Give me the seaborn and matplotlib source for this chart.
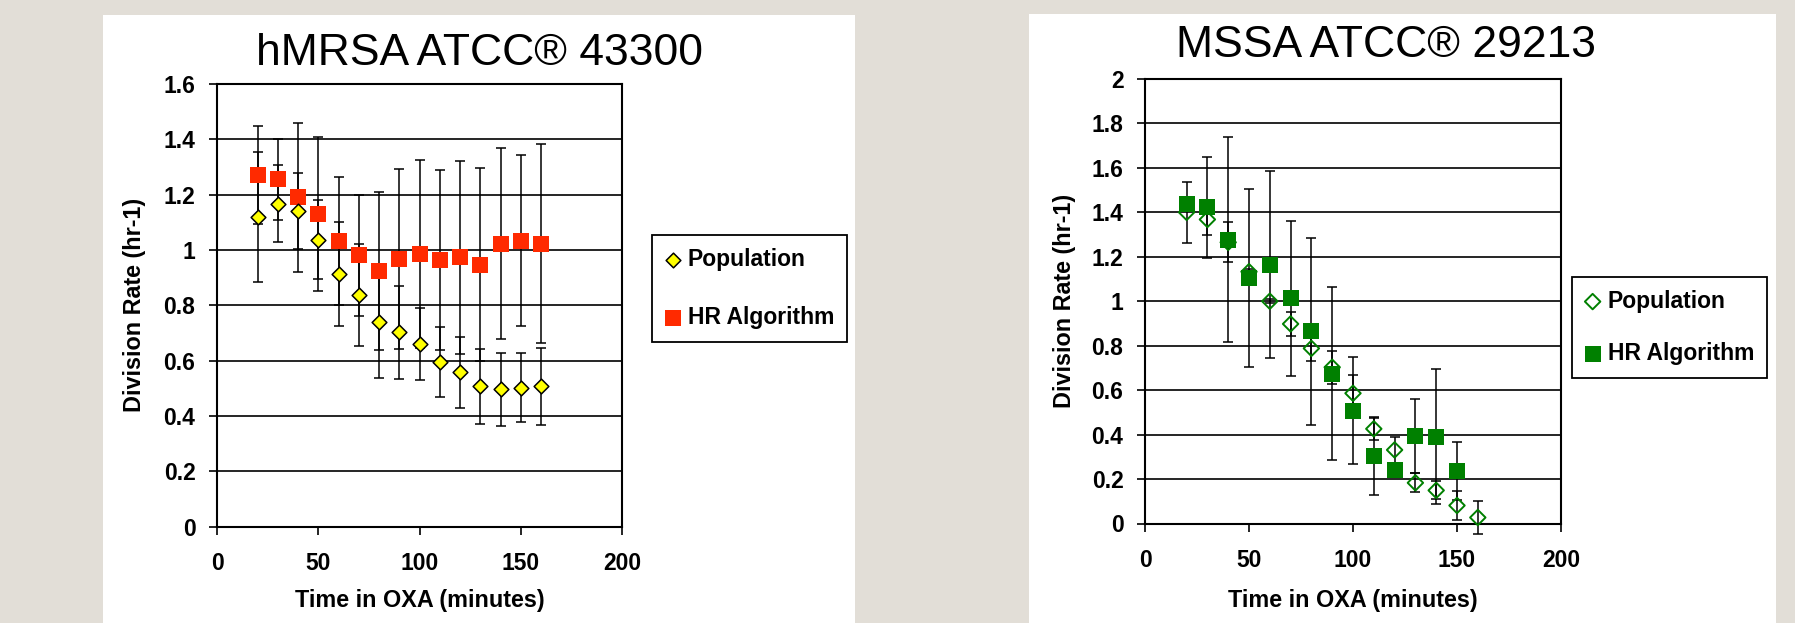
import matplotlib
matplotlib.use("Agg")
import matplotlib.pyplot as plt
import seaborn as sns
import pandas as pd
from matplotlib.patches import Rectangle

# ---------------- data ----------------
times = [20, 30, 40, 50, 60, 70, 80, 90, 100, 110, 120, 130, 140, 150, 160]

# hMRSA ATCC 43300
mrsa_pop = [1.120, 1.167, 1.141, 1.037, 0.913, 0.837, 0.741, 0.702, 0.659, 0.595, 0.557, 0.507, 0.496, 0.502, 0.507]
mrsa_pop_err = [0.235, 0.140, 0.137, 0.142, 0.188, 0.186, 0.205, 0.168, 0.130, 0.127, 0.127, 0.135, 0.133, 0.125, 0.140]
mrsa_hr = [1.271, 1.255, 1.190, 1.130, 1.033, 0.980, 0.925, 0.967, 0.984, 0.963, 0.973, 0.947, 1.023, 1.034, 1.023]
mrsa_hr_err = [0.177, 0.145, 0.270, 0.280, 0.232, 0.220, 0.285, 0.325, 0.340, 0.325, 0.350, 0.350, 0.345, 0.310, 0.360]

# MSSA ATCC 29213
mssa_times_hr = [20, 30, 40, 50, 60, 70, 80, 90, 100, 110, 120, 130, 140, 150]
mssa_pop = [1.400, 1.368, 1.265, 1.133, 1.000, 0.898, 0.788, 0.703, 0.586, 0.426, 0.331, 0.183, 0.149, 0.081, 0.027]
mssa_pop_err = [0.137, 0.072, 0.090, 0.010, 0.010, 0.053, 0.059, 0.075, 0.080, 0.050, 0.060, 0.043, 0.040, 0.065, 0.072]
mssa_hr = [1.438, 1.423, 1.277, 1.103, 1.164, 1.013, 0.865, 0.674, 0.507, 0.302, 0.241, 0.392, 0.391, 0.236]
mssa_hr_err = [0.030, 0.227, 0.460, 0.400, 0.420, 0.350, 0.420, 0.390, 0.240, 0.175, 0.030, 0.167, 0.304, 0.130]

x_ticks = [0, 50, 100, 150, 200]
x_tick_labels = ["0", "50", "100", "150", "200"]
mrsa_y_ticks = [0, 0.2, 0.4, 0.6, 0.8, 1.0, 1.2, 1.4, 1.6]
mrsa_y_labels = ["0", "0.2", "0.4", "0.6", "0.8", "1", "1.2", "1.4", "1.6"]
mssa_y_ticks = [0, 0.2, 0.4, 0.6, 0.8, 1.0, 1.2, 1.4, 1.6, 1.8, 2.0]
mssa_y_labels = ["0", "0.2", "0.4", "0.6", "0.8", "1", "1.2", "1.4", "1.6", "1.8", "2"]

titles = ["hMRSA ATCC\u00ae 43300", "MSSA ATCC\u00ae 29213"]
series_names = ["Population", "HR Algorithm"]
x_label = "Time in OXA (minutes)"
y_label = "Division Rate (hr-1)"

# ---------------- style ----------------
sns.set_style("white")
plt.rcParams["font.family"] = ["Liberation Sans", "DejaVu Sans"]

W, H = 1795, 623
fig = plt.figure(figsize=(W / 100, H / 100), dpi=100, facecolor="#e2ded7")


def fx(px):
    return px / W


def fy(py):
    return 1 - py / H


# white chart panels (behind the axes)
for (x0, x1, top) in [(103, 855, 15), (1029, 1776, 14)]:
    fig.patches.append(Rectangle((fx(x0), 0), fx(x1) - fx(x0), fy(top),
                                 transform=fig.transFigure, facecolor="white",
                                 edgecolor="none", zorder=-5))


def make_panel(box, ymax, yticks, ylabels, t_pop, pop, pop_err, t_hr, hr, hr_err,
               pop_kw, pop_open, hr_color, pop_top, legend_box, label_x, spacing,
               title, title_xy, title_size):
    left, right, top, bottom = box
    ax = fig.add_axes([fx(left), fy(bottom), fx(right) - fx(left), (bottom - top) / H])
    ax.set_zorder(1)
    ax.set_facecolor("white")
    ax.set_xlim(0, 200)
    ax.set_ylim(0, ymax)

    # error bars
    for t, v, e in [(t_pop, pop, pop_err), (t_hr, hr, hr_err)]:
        eb = ax.errorbar(t, v, yerr=e, fmt="none", ecolor="black", elinewidth=1.1,
                         capsize=3.4, capthick=1.1, zorder=3)
        for ch in eb.get_children():
            ch.set_clip_on(False)

    df_pop = pd.DataFrame({"t": t_pop, "v": pop})
    df_hr = pd.DataFrame({"t": t_hr, "v": hr})

    sns.scatterplot(data=df_hr, x="t", y="v", ax=ax, marker="s", s=140,
                    color=hr_color, edgecolor=hr_color, linewidth=0,
                    zorder=4, legend=False)
    h_hr = ax.collections[-1]
    sns.scatterplot(data=df_pop, x="t", y="v", ax=ax, marker="D",
                    zorder=5 if pop_top else 3.5, legend=False, **pop_kw)
    h_pop = ax.collections[-1]
    if pop_open:
        h_pop.set_facecolor("none")
    for h in (h_hr, h_pop):
        h.set_clip_on(False)

    ax.set_xticks(x_ticks, labels=x_tick_labels, fontweight="bold")
    ax.set_yticks(yticks, labels=ylabels, fontweight="bold")
    ax.tick_params(axis="both", which="both", direction="out", length=6, width=1.2,
                   color="black", labelsize=16.5, labelcolor="black",
                   bottom=True, left=True)
    ax.tick_params(axis="x", pad=12.5)
    ax.tick_params(axis="y", pad=9.5)
    ax.grid(axis="y", color="black", linewidth=1.2)
    ax.grid(axis="x", visible=False)
    ax.set_axisbelow(True)
    for sp in ax.spines.values():
        sp.set_color("black")
        sp.set_linewidth(1.5)

    ax.set_xlabel(x_label, fontsize=16.8, fontweight="bold", color="black")
    ax.set_ylabel(y_label, fontsize=16.8, fontweight="bold", color="black")
    ax.yaxis.set_label_coords((label_x - left) / (right - left), 0.5)
    ax.yaxis.label.set_va("center")
    ax.xaxis.set_label_coords(0.5, (bottom - 589) / (bottom - top))

    lx0, lx1, ly0, ly1 = legend_box
    leg = ax.legend([h_pop, h_hr], series_names, loc="upper left",
                    bbox_to_anchor=(fx(lx0), fy(ly0)), bbox_transform=fig.transFigure,
                    borderaxespad=0, frameon=True, fancybox=False, framealpha=1,
                    prop={"weight": "bold", "size": 16.5},
                    handlelength=0.7, handletextpad=0.3, borderpad=0.55,
                    labelspacing=spacing, scatterpoints=1)
    fr = leg.get_frame()
    fr.set_edgecolor("black")
    fr.set_linewidth(1.3)
    for txt in leg.get_texts():
        txt.set_color("black")

    fig.text(fx(title_xy[0]), fy(title_xy[1]), title, ha="center", va="baseline",
             fontsize=title_size, color="black")
    return ax


make_panel((217, 622, 84, 526.5), 1.6, mrsa_y_ticks, mrsa_y_labels,
           times, mrsa_pop, mrsa_pop_err, times, mrsa_hr, mrsa_hr_err,
           dict(s=56, color="#ffff00", edgecolor="black", linewidth=1.1),
           False, "#ff2a00", True, (652, 845, 235, 358), 135, 1.55,
           titles[0], (480, 65), 32)

make_panel((1145, 1561, 79, 523.5), 2.0, mssa_y_ticks, mssa_y_labels,
           times, mssa_pop, mssa_pop_err, mssa_times_hr, mssa_hr, mssa_hr_err,
           dict(s=62, color="#008000", edgecolor="#008000", linewidth=1.4),
           True, "#008000", False, (1572, 1762, 277, 386), 1064, 1.3,
           titles[1], (1386, 57), 32)

fig.savefig("out.png", dpi=100, facecolor=fig.get_facecolor())
